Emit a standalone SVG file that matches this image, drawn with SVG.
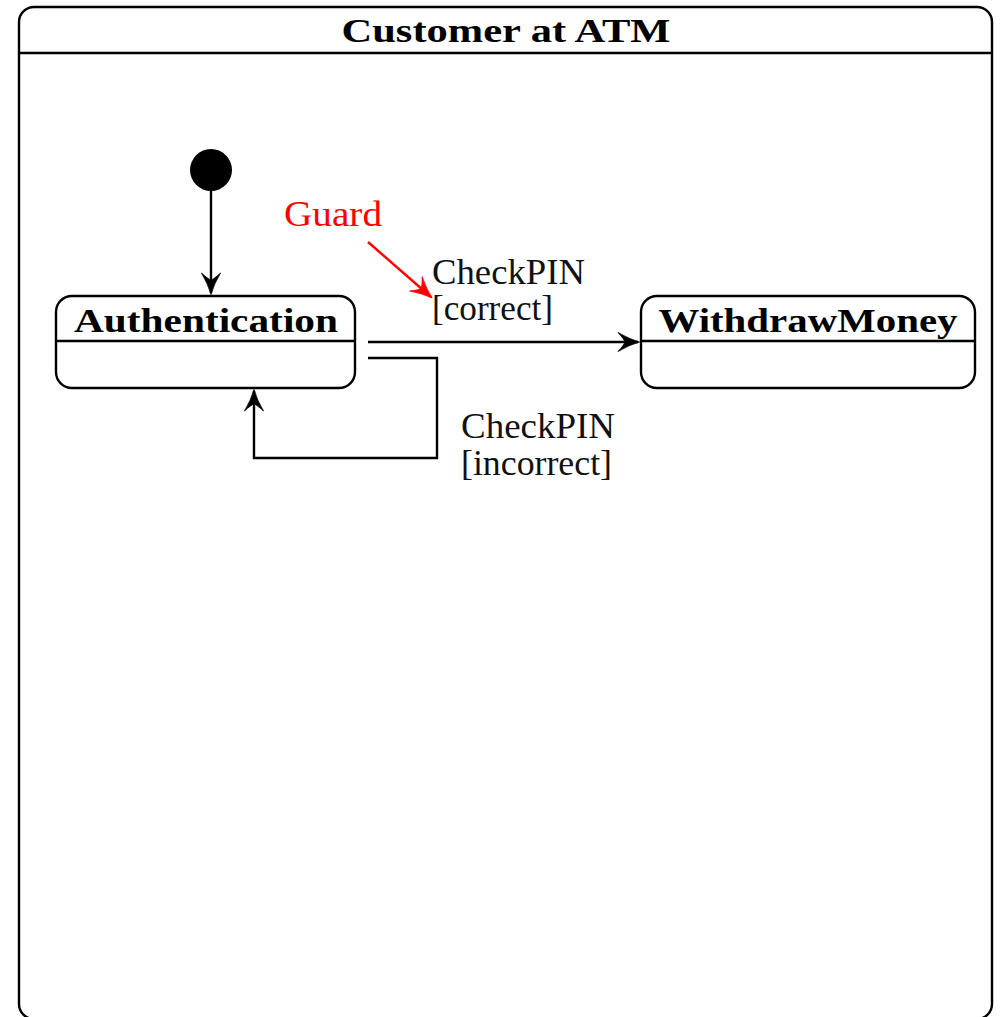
<svg xmlns="http://www.w3.org/2000/svg" width="1000" height="1017" viewBox="0 0 1000 1017">
  <style>
    .frame { fill: #fff; stroke: #000; stroke-width: 2.4; }
    .box { fill: #fff; stroke: #000; stroke-width: 2.4; }
    .sep { stroke: #000; stroke-width: 2.4; }
    .edge { fill: none; stroke: #000; stroke-width: 2.4; }
    .guard-edge { fill: none; stroke: #f00; stroke-width: 2.4; }
    .title { font-family: "Liberation Serif", "DejaVu Serif", serif; font-weight: bold; font-size: 33px; fill: #000; }
    .label { font-family: "Liberation Serif", "DejaVu Serif", serif; font-size: 35px; fill: #111; }
    .guard { font-family: "Liberation Serif", "DejaVu Serif", serif; font-size: 35px; fill: #f00; }
  </style>
  <defs>
    <!-- stealth-style arrowheads with a concave back -->
    <marker id="arrow" viewBox="-23 -11 25 22" refX="0" refY="0" markerWidth="25" markerHeight="22" markerUnits="userSpaceOnUse" orient="auto">
      <path d="M1.5,0 Q-9,-3 -20,-9.5 Q-14,-3 -13,0 Q-14,3 -20,9.5 Q-9,3 1.5,0 Z" fill="#000" stroke="#000" stroke-width="0.8" stroke-linejoin="round"/>
    </marker>
    <marker id="arrow-red" viewBox="-23 -11 25 22" refX="0" refY="0" markerWidth="25" markerHeight="22" markerUnits="userSpaceOnUse" orient="auto">
      <path d="M1.5,0 Q-9,-3 -20,-9.5 Q-14,-3 -13,0 Q-14,3 -20,9.5 Q-9,3 1.5,0 Z" fill="#f00" stroke="#f00" stroke-width="0.8" stroke-linejoin="round"/>
    </marker>
  </defs>

  <!-- enclosing state -->
  <g id="customer-at-atm">
    <rect class="frame" x="19" y="7" width="973" height="1012" rx="15" ry="15"/>
    <line class="sep" x1="19" y1="53" x2="992" y2="53"/>
    <text class="title" x="506" y="42" text-anchor="middle" textLength="329" lengthAdjust="spacingAndGlyphs">Customer at ATM</text>
  </g>

  <!-- initial pseudo-state -->
  <g id="initial">
    <circle cx="211" cy="170" r="21" fill="#000"/>
  </g>

  <g id="authentication">
    <rect class="box" x="56" y="296" width="299" height="92" rx="16" ry="16"/>
    <line class="sep" x1="56" y1="341" x2="355" y2="341"/>
    <text class="title" x="206" y="332" text-anchor="middle" textLength="264" lengthAdjust="spacingAndGlyphs">Authentication</text>
  </g>

  <g id="withdraw-money">
    <rect class="box" x="641" y="296" width="334" height="92" rx="16" ry="16"/>
    <line class="sep" x1="641" y1="341" x2="975" y2="341"/>
    <text class="title" x="808" y="332" text-anchor="middle" textLength="299" lengthAdjust="spacingAndGlyphs">WithdrawMoney</text>
  </g>

  <g id="guard-note">
    <text class="guard" x="284" y="226" textLength="98" lengthAdjust="spacingAndGlyphs">Guard</text>
  </g>

  <!-- transitions -->
  <g id="connectors">
    <line class="edge" x1="211" y1="191" x2="211" y2="293" marker-end="url(#arrow)"/>
    <line class="edge" x1="368" y1="342" x2="638" y2="342" marker-end="url(#arrow)"/>
    <polyline class="edge" points="368,358 437,358 437,458 254,458 254,391" marker-end="url(#arrow)"/>
    <line class="guard-edge" x1="368" y1="242" x2="431" y2="297" marker-end="url(#arrow-red)"/>
  </g>

  <g id="transition-labels">
    <text class="label" x="432" y="284" textLength="153" lengthAdjust="spacingAndGlyphs">CheckPIN</text>
    <text class="label" x="432" y="320" textLength="121" lengthAdjust="spacingAndGlyphs">[correct]</text>
    <text class="label" x="461" y="438" textLength="154" lengthAdjust="spacingAndGlyphs">CheckPIN</text>
    <text class="label" x="461" y="475" textLength="151" lengthAdjust="spacingAndGlyphs">[incorrect]</text>
  </g>
</svg>
